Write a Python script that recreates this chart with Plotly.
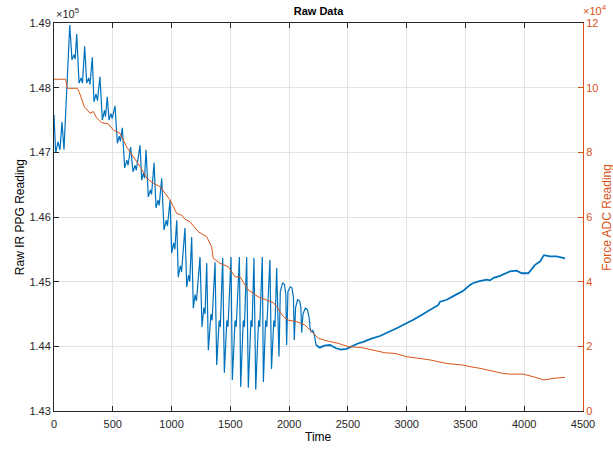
import plotly.graph_objects as go

# ---------------- data ----------------
# PPG (left axis), oscillating part
ppg_time_a = [0, 14, 34, 51, 68, 85, 134, 153, 170, 180, 193, 213, 230, 242, 261, 278, 295, 306,
              326, 340, 357, 370, 391, 411, 430, 438, 453, 468, 485, 495, 519, 539, 555, 565,
              581, 601, 620, 630, 652, 672, 690, 700, 732, 746, 760, 770, 783, 802, 820, 830,
              851, 868, 885, 895, 916, 936, 955, 965, 987, 1001, 1018, 1028, 1044, 1057, 1075,
              1085, 1114, 1129, 1145, 1155, 1171, 1185, 1200, 1212, 1242, 1259, 1275, 1285,
              1299, 1313, 1335, 1345, 1370, 1384, 1405, 1415, 1435, 1449, 1470, 1480, 1506,
              1517, 1540, 1550, 1577, 1588, 1610, 1620, 1639, 1653, 1675, 1685, 1701, 1716,
              1740, 1750, 1772, 1781, 1800, 1810, 1837, 1850, 1870, 1880, 1894, 1914, 1925,
              1945, 1960, 1972, 1979, 1990, 2010, 2025, 2037, 2044, 2055, 2072, 2090, 2100,
              2107, 2118, 2138, 2155, 2170, 2178, 2188, 2200, 2212, 2222, 2230]
ppg_a = [147580, 146990, 147160, 147040, 147470, 147040, 148970, 148430, 148510, 148440, 148830,
         148070, 148150, 148070, 148640, 148070, 148150, 148050, 148470, 147780, 147900, 147800,
         148170, 147500, 147650, 147550, 147860, 147500, 147600, 147520, 147720, 147140, 147250,
         147170, 147380, 146760, 146880, 146800, 147080, 146700, 146800, 146720, 147110, 146570,
         146680, 146600, 147040, 146310, 146420, 146350, 146840, 146140, 146260, 146180, 146600,
         145800, 145950, 145860, 146260, 145440, 145600, 145500, 145950, 145070, 145250, 145150,
         145830, 144920, 145100, 145000, 145690, 144590, 144800, 144700, 145380, 144300, 144600,
         144500, 145290, 143940, 144500, 144400, 145300, 143710, 144400, 144300, 145370, 143590,
         144400, 144300, 145380, 143480, 144400, 144300, 145380, 143370, 144400, 144300, 145380,
         143360, 144400, 144300, 145370, 143330, 144400, 144300, 145380, 143450, 144400, 144300,
         145340, 143650, 144400, 144300, 145210, 143840, 144850, 144980, 144960, 144800, 144020,
         144850, 144920, 144900, 144750, 144100, 144600, 144720, 144700, 144600, 144210, 144500,
         144590, 144570, 144450, 144280, 144220, 144250, 144200, 144050, 144020]

# PPG (left axis), slow drift part
ppg_time_b = [2230, 2260, 2300, 2348, 2400, 2440, 2490, 2530, 2580, 2631, 2700, 2773, 2850, 2915,
              2990, 3057, 3130, 3199, 3270, 3284, 3341, 3400, 3482, 3539, 3567, 3620, 3681,
              3709, 3740, 3794, 3822, 3850, 3879, 3936, 3979, 4035, 4092, 4134, 4168, 4220,
              4277, 4347]
ppg_b = [144020, 143980, 144010, 144020, 143970, 143950, 143960, 144000, 144040, 144070, 144120,
         144160, 144220, 144280, 144350, 144410, 144490, 144560, 144640, 144690, 144720, 144780,
         144860, 144950, 144980, 145010, 145030, 145020, 145060, 145090, 145110, 145140, 145160,
         145170, 145130, 145130, 145260, 145310, 145410, 145390, 145390, 145360]

# Force ADC (right axis)
force_time = [0, 99, 113, 198, 213, 258, 306, 335, 363, 405, 462, 505, 561, 618, 675, 732, 789,
              845, 902, 987, 1044, 1086, 1114, 1157, 1228, 1299, 1341, 1355, 1412, 1483, 1540,
              1582, 1653, 1738, 1866, 1894, 1951, 1993, 2065, 2135, 2206, 2249, 2334, 2419,
              2504, 2618, 2731, 2816, 2901, 3001, 3199, 3341, 3482, 3539, 3624, 3766, 3822,
              3879, 3993, 4077, 4168, 4248, 4347]
force = [102600, 102600, 99800, 99800, 98800, 94100, 92100, 92600, 90600, 89200, 88800, 86900,
         85900, 81700, 78600, 75600, 72000, 70400, 69400, 65300, 61100, 60600, 59300, 58500,
         55400, 53900, 50800, 47200, 45700, 44600, 41500, 41500, 37400, 35300, 33500, 32300,
         29200, 28100, 27600, 26600, 24000, 22500, 21600, 20900, 19900, 19600, 18700, 18000,
         17800, 16800, 15800, 14700, 14200, 13700, 13200, 12100, 11600, 11400, 11400, 10600,
         9600, 10100, 10400]

x_ticks = [0, 500, 1000, 1500, 2000, 2500, 3000, 3500, 4000, 4500]
y_left_ticks = [143000, 144000, 145000, 146000, 147000, 148000, 149000]
y_left_labels = ["1.43", "1.44", "1.45", "1.46", "1.47", "1.48", "1.49"]
y_right_ticks = [0, 20000, 40000, 60000, 80000, 100000, 120000]
y_right_labels = ["0", "2", "4", "6", "8", "10", "12"]

# ---------------- styles ----------------
BLUE = "#0072BD"
ORANGE = "#D95319"
AX = "#262626"
GRID = "#e3e3e3"
FONT = "Liberation Sans, Arial, sans-serif"

fig = go.Figure()
fig.add_trace(go.Scatter(x=ppg_time_a, y=ppg_a, mode="lines",
                         line=dict(color=BLUE, width=1.2), yaxis="y", showlegend=False))
fig.add_trace(go.Scatter(x=ppg_time_b, y=ppg_b, mode="lines",
                         line=dict(color=BLUE, width=1.8), yaxis="y", showlegend=False))
fig.add_trace(go.Scatter(x=force_time, y=force, mode="lines",
                         line=dict(color=ORANGE, width=1.0), yaxis="y2", showlegend=False))

fig.update_layout(
    width=613, height=450,
    margin=dict(l=54, r=30, t=23, b=39),
    paper_bgcolor="white", plot_bgcolor="white",
    font=dict(family=FONT, size=11, color=AX),
    title=dict(text="<b>Raw Data</b>", x=0.5, xref="paper", y=1 - 11 / 450,
               yanchor="middle", font=dict(size=11, color="#000000")),
    xaxis=dict(range=[0, 4500], tickvals=x_ticks, ticks="inside", ticklen=5,
               tickcolor=AX, showline=True, linecolor=AX, linewidth=1, mirror="ticks",
               showgrid=True, gridcolor=GRID, zeroline=False, ticklabelstandoff=3,
               tickfont=dict(size=11, color=AX)),
    yaxis=dict(range=[143000, 149000], tickvals=y_left_ticks, ticktext=y_left_labels,
               ticks="inside", ticklen=5, tickcolor=AX, showline=True, linecolor=AX,
               linewidth=1, showgrid=True, gridcolor=GRID, zeroline=False,
               tickfont=dict(size=11, color=AX)),
    yaxis2=dict(range=[0, 120000], tickvals=y_right_ticks, ticktext=y_right_labels,
                overlaying="y", side="right", ticks="inside", ticklen=5, tickcolor=ORANGE,
                showline=True, linecolor=ORANGE, linewidth=1, showgrid=False, zeroline=False,
                tickfont=dict(size=11, color=ORANGE)),
    annotations=[
        dict(text="×10<sup>5</sup>", x=0, y=1, xref="paper", yref="paper",
             xanchor="left", yanchor="bottom", yshift=1, showarrow=False,
             font=dict(size=11, color=AX)),
        dict(text="×10<sup>4</sup>", x=1, y=1, xref="paper", yref="paper",
             xanchor="left", yanchor="bottom", xshift=-2, yshift=4, showarrow=False,
             font=dict(size=11, color=ORANGE)),
        dict(text="Raw IR PPG Reading", x=-0.064, y=0.5, xref="paper", yref="paper",
             textangle=-90, showarrow=False, xanchor="center", yanchor="middle",
             font=dict(size=12, color="#000000")),
        dict(text="Force ADC Reading", x=1.045, y=0.5, xref="paper", yref="paper",
             textangle=-90, showarrow=False, xanchor="center", yanchor="middle",
             font=dict(size=12, color=ORANGE)),
        dict(text="Time", x=0.5, y=-0.067, xref="paper", yref="paper",
             showarrow=False, xanchor="center", yanchor="middle",
             font=dict(size=12, color="#000000")),
    ],
)

fig.write_html("out.html")
